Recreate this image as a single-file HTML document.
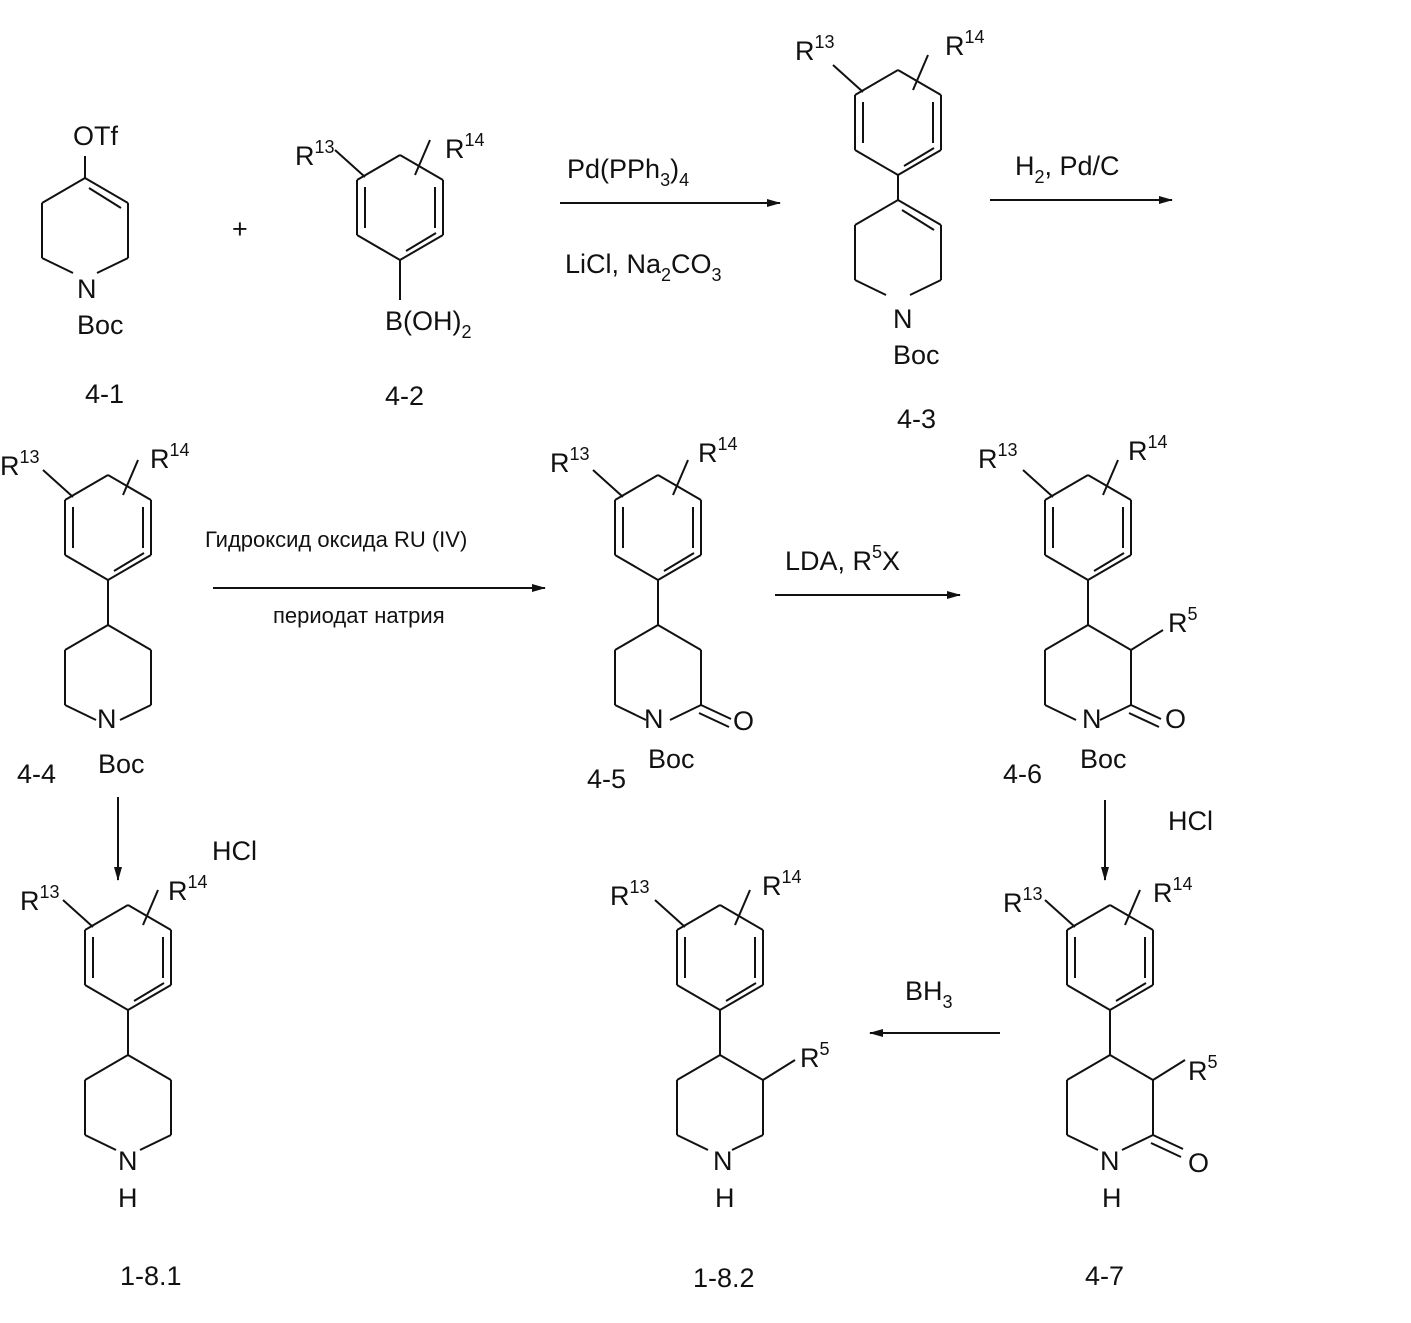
<!DOCTYPE html>
<html><head><meta charset="utf-8"><style>
body{margin:0;background:#fff;}
svg{display:block}
text{font-family:"Liberation Sans",Arial,sans-serif;font-size:27px;fill:#111}
.s{font-size:18px}
.r{font-size:22px}
</style></head><body>
<svg id="g" width="1411" height="1323" viewBox="0 0 1411 1323" stroke="#111" stroke-width="2" fill="none">
<defs><marker id="a" markerWidth="14" markerHeight="10" refX="13" refY="5" orient="auto" markerUnits="userSpaceOnUse"><path d="M0,1 L14,5 L0,9 z" fill="#111" stroke="none"/></marker></defs>
<g id="lines"></g>
<line x1="560" y1="203" x2="780" y2="203" marker-end="url(#a)"/>
<line x1="990" y1="200" x2="1172" y2="200" marker-end="url(#a)"/>
<line x1="213" y1="588" x2="545" y2="588" marker-end="url(#a)"/>
<line x1="775" y1="595" x2="960" y2="595" marker-end="url(#a)"/>
<line x1="1105" y1="800" x2="1105" y2="880" marker-end="url(#a)"/>
<line x1="118" y1="797" x2="118" y2="880" marker-end="url(#a)"/>
<line x1="1000" y1="1033" x2="870" y2="1033" marker-end="url(#a)"/>
<g stroke="none">
<text x="73" y="145">OTf</text><text x="77" y="298">N</text><text x="77" y="334">Boc</text><text x="85" y="403">4-1</text>
<text x="232" y="238">+</text>
<text x="295" y="165">R<tspan class="s" dy="-12">13</tspan></text>
<text x="445" y="158">R<tspan class="s" dy="-12">14</tspan></text>
<text x="385" y="330">B(OH)<tspan class="s" dy="8">2</tspan></text>
<text x="385" y="405">4-2</text>
<text x="567" y="178">Pd(PPh<tspan class="s" dy="8">3</tspan><tspan dy="-8">)</tspan><tspan class="s" dy="8">4</tspan></text>
<text x="565" y="273">LiCl, Na<tspan class="s" dy="8">2</tspan><tspan dy="-8">CO</tspan><tspan class="s" dy="8">3</tspan></text>
<text x="795" y="60">R<tspan class="s" dy="-12">13</tspan></text>
<text x="945" y="55">R<tspan class="s" dy="-12">14</tspan></text>
<text x="893" y="328">N</text><text x="893" y="364">Boc</text><text x="897" y="428">4-3</text>
<text x="1015" y="175">H<tspan class="s" dy="8">2</tspan><tspan dy="-8">, Pd/C</tspan></text>
<text x="0" y="475">R<tspan class="s" dy="-12">13</tspan></text>
<text x="150" y="468">R<tspan class="s" dy="-12">14</tspan></text>
<text x="97" y="728">N</text><text x="98" y="773">Boc</text><text x="17" y="783">4-4</text>
<text class="r" x="205" y="547">Гидроксид оксида RU (IV)</text>
<text class="r" x="273" y="623">периодат натрия</text>
<text x="550" y="472">R<tspan class="s" dy="-12">13</tspan></text>
<text x="698" y="462">R<tspan class="s" dy="-12">14</tspan></text>
<text x="644" y="728">N</text><text x="733" y="730">O</text>
<text x="648" y="768">Boc</text><text x="587" y="788">4-5</text>
<text x="785" y="570">LDA, R<tspan class="s" dy="-12">5</tspan><tspan dy="12">X</tspan></text>
<text x="978" y="468">R<tspan class="s" dy="-12">13</tspan></text>
<text x="1128" y="460">R<tspan class="s" dy="-12">14</tspan></text>
<text x="1168" y="632">R<tspan class="s" dy="-12">5</tspan></text>
<text x="1082" y="728">N</text><text x="1165" y="728">O</text>
<text x="1080" y="768">Boc</text><text x="1003" y="783">4-6</text>
<text x="1168" y="830">HCl</text>
<text x="212" y="860">HCl</text>
<text x="20" y="910">R<tspan class="s" dy="-12">13</tspan></text>
<text x="168" y="900">R<tspan class="s" dy="-12">14</tspan></text>
<text x="118" y="1170">N</text><text x="118" y="1207">H</text>
<text x="120" y="1285">1-8.1</text>
<text x="610" y="905">R<tspan class="s" dy="-12">13</tspan></text>
<text x="762" y="895">R<tspan class="s" dy="-12">14</tspan></text>
<text x="800" y="1067">R<tspan class="s" dy="-12">5</tspan></text>
<text x="713" y="1170">N</text><text x="715" y="1207">H</text>
<text x="693" y="1287">1-8.2</text>
<text x="905" y="1000">BH<tspan class="s" dy="8">3</tspan></text>
<text x="1003" y="912">R<tspan class="s" dy="-12">13</tspan></text>
<text x="1153" y="902">R<tspan class="s" dy="-12">14</tspan></text>
<text x="1188" y="1080">R<tspan class="s" dy="-12">5</tspan></text>
<text x="1100" y="1170">N</text><text x="1188" y="1172">O</text>
<text x="1102" y="1207">H</text>
<text x="1085" y="1285">4-7</text>
</g>
</svg>
<script>
var L=document.getElementById('lines'),S='';
function l(a,b,c,d){S+='<line x1="'+a+'" y1="'+b+'" x2="'+c+'" y2="'+d+'"/>';}
function hex(cx,t){var w=43;return [[cx,t],[cx+w,t+25],[cx+w,t+80],[cx,t+105],[cx-w,t+80],[cx-w,t+25]];}
function benz(cx,t,sub){var p=hex(cx,t);for(var i=0;i<6;i++){var q=p[(i+1)%6];l(p[i][0],p[i][1],q[0],q[1]);}
 l(cx-35,t+32,cx-35,t+73);l(cx+35,t+32,cx+35,t+73);l(cx+6,t+96,cx+36,t+78);
 l(cx-65,t-5,cx-35,t+22);l(cx+30,t-15,cx+15,t+20);
 if(sub)l(cx,t+105,cx,t+150);}
function ring(cx,t,opt){var p=hex(cx,t);
 l(p[0][0],p[0][1],p[1][0],p[1][1]);l(p[1][0],p[1][1],p[2][0],p[2][1]);
 l(p[2][0],p[2][1],cx+12,t+95);l(cx-12,t+95,p[4][0],p[4][1]);
 l(p[4][0],p[4][1],p[5][0],p[5][1]);l(p[5][0],p[5][1],p[0][0],p[0][1]);
 if(opt.db)l(cx+4,t+10,cx+36,t+30);
 if(opt.co){l(p[2][0],p[2][1],p[2][0]+30,p[2][1]+14);l(p[2][0]-2,p[2][1]+8,p[2][0]+28,p[2][1]+22);}
 if(opt.r5)l(p[1][0],p[1][1],p[1][0]+32,p[1][1]-20);
 if(opt.otf)l(cx,t,cx,t-22);}
ring(85,178,{db:1,otf:1});
benz(400,155,0);l(400,260,400,300);
benz(898,70,0);l(898,175,898,200);ring(898,200,{db:1});
benz(108,475,1);ring(108,625,{});
benz(658,475,1);ring(658,625,{co:1});
benz(1088,475,1);ring(1088,625,{co:1,r5:1});
benz(128,905,1);ring(128,1055,{});
benz(720,905,1);ring(720,1055,{r5:1});
benz(1110,905,1);ring(1110,1055,{co:1,r5:1});
L.innerHTML=S;
</script>
</body></html>
